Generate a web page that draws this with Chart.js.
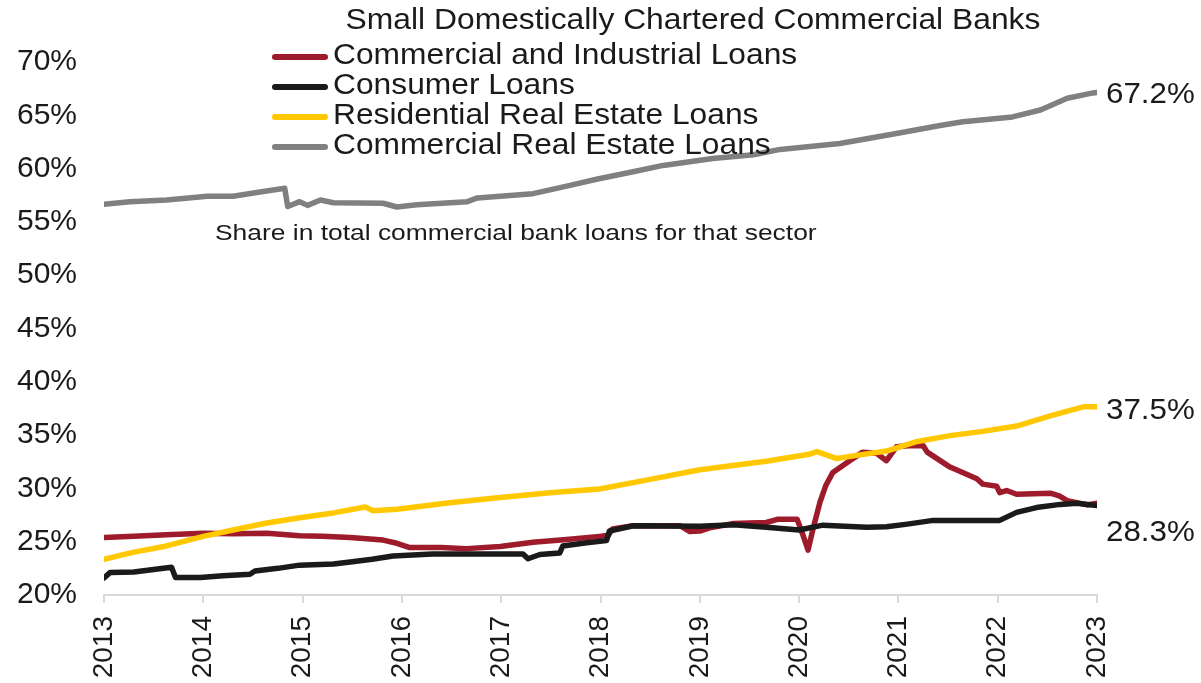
<!DOCTYPE html>
<html>
<head>
<meta charset="utf-8">
<script src="https://cdn.jsdelivr.net/npm/chart.js@4.4.1/dist/chart.umd.min.js"></script>
<style>
  html, body { margin: 0; padding: 0; background: #fff; }
  #wrap { width: 1201px; height: 683px; }
</style>
</head>
<body>
<div id="wrap"><canvas id="c" width="1201" height="683"></canvas></div>
<script>
// Share in total commercial bank loans held by small domestically chartered banks
// (x = decimal year)
const TITLE = "Small Domestically Chartered Commercial Banks";
const NOTE = "Share in total commercial bank loans for that sector";
const SERIES_NAMES = ["Commercial and Industrial Loans", "Consumer Loans", "Residential Real Estate Loans", "Commercial Real Estate Loans"];
const END_LABELS = ["67.2%", "37.5%", "28.3%"];
const Y_TICKS = [20, 25, 30, 35, 40, 45, 50, 55, 60, 65, 70];
const X_YEARS = [2013, 2014, 2015, 2016, 2017, 2018, 2019, 2020, 2021, 2022, 2023];

const ciX = [2013.00, 2013.30, 2013.63, 2014.00, 2014.30, 2014.64, 2014.97, 2015.20, 2015.48, 2015.81, 2015.95, 2016.08, 2016.40, 2016.65, 2016.99,
  2017.32, 2017.66, 2017.99, 2018.08, 2018.12, 2018.33, 2018.80, 2018.90, 2019.00, 2019.10, 2019.34, 2019.67, 2019.78, 2019.98,
  2020.04, 2020.09, 2020.14, 2020.21, 2020.27, 2020.34, 2020.51, 2020.64, 2020.78, 2020.88, 2020.98, 2021.10, 2021.25, 2021.29,
  2021.52, 2021.79, 2021.85, 2021.99, 2022.02, 2022.09, 2022.19, 2022.53, 2022.62, 2022.70, 2022.90, 2023.00];
const ciY = [25.4, 25.5, 25.65, 25.8, 25.75, 25.8, 25.55, 25.5, 25.4, 25.15, 24.85, 24.45, 24.45, 24.35, 24.55,
  24.95, 25.2, 25.5, 25.6, 26.2, 26.5, 26.5, 25.95, 26.0, 26.3, 26.7, 26.8, 27.1, 27.1,
  25.6, 24.2, 26.2, 28.7, 30.3, 31.5, 32.6, 33.4, 33.3, 32.6, 33.9, 34.0, 34.0, 33.4,
  32.0, 30.9, 30.4, 30.2, 29.6, 29.8, 29.45, 29.55, 29.3, 28.85, 28.45, 28.6];

const conX = [2013.00, 2013.06, 2013.30, 2013.50, 2013.68, 2013.72, 2013.97, 2014.20, 2014.47, 2014.52, 2014.75, 2014.97, 2015.31, 2015.48,
  2015.70, 2015.91, 2016.31, 2016.99, 2017.22, 2017.27, 2017.39, 2017.59, 2017.62, 2017.86, 2018.06, 2018.09, 2018.33, 2019.00,
  2019.34, 2019.67, 2020.00, 2020.24, 2020.68, 2020.88, 2021.09, 2021.35, 2022.02, 2022.19, 2022.39, 2022.63, 2022.80, 2023.00];
const conY = [21.6, 22.1, 22.15, 22.4, 22.6, 21.65, 21.65, 21.8, 21.95, 22.25, 22.5, 22.8, 22.9, 23.1,
  23.35, 23.65, 23.85, 23.85, 23.85, 23.4, 23.8, 23.95, 24.6, 24.9, 25.1, 26.0, 26.5, 26.45,
  26.6, 26.35, 26.1, 26.55, 26.35, 26.4, 26.65, 27.0, 27.0, 27.75, 28.2, 28.5, 28.6, 28.4];

const rreX = [2013.00, 2013.29, 2013.63, 2014.00, 2014.30, 2014.64, 2014.97, 2015.31, 2015.63, 2015.71, 2015.95, 2016.48, 2016.99,
  2017.49, 2017.99, 2018.50, 2019.00, 2019.67, 2020.10, 2020.18, 2020.38, 2020.58, 2020.88, 2021.19, 2021.52, 2021.85,
  2022.19, 2022.53, 2022.86, 2023.00];
const rreY = [23.35, 24.0, 24.6, 25.5, 26.1, 26.75, 27.25, 27.7, 28.25, 27.9, 28.05, 28.65, 29.15,
  29.6, 29.95, 30.85, 31.75, 32.55, 33.2, 33.45, 32.8, 33.1, 33.5, 34.4, 34.95, 35.35,
  35.85, 36.8, 37.65, 37.65];

const creX = [2013.00, 2013.26, 2013.63, 2014.04, 2014.30, 2014.57, 2014.82, 2014.85, 2014.97, 2015.05, 2015.18, 2015.31, 2015.81,
  2015.95, 2016.15, 2016.66, 2016.76, 2017.32, 2017.66, 2017.96, 2018.40, 2018.63, 2019.13, 2019.54, 2019.81, 2020.41,
  2020.98, 2021.42, 2021.65, 2022.15, 2022.43, 2022.70, 2022.96, 2023.00];
const creY = [56.65, 56.9, 57.05, 57.4, 57.4, 57.8, 58.15, 56.45, 56.9, 56.55, 57.05, 56.8, 56.75,
  56.4, 56.6, 56.9, 57.25, 57.65, 58.35, 59.0, 59.85, 60.3, 60.95, 61.3, 61.8, 62.35,
  63.3, 64.05, 64.4, 64.85, 65.5, 66.6, 67.1, 67.15];

const COLORS = ["#9e1b2b", "#1a1a1a", "#ffc800", "#808080"];
const FONT = "'Liberation Sans', Arial, sans-serif";
const TXT = "#1a1a1a";

const pts = (xs, ys) => xs.map((x, i) => ({ x, y: ys[i] }));
const line = (i, xs, ys, order) => ({
  label: SERIES_NAMES[i], data: pts(xs, ys), borderColor: COLORS[i], backgroundColor: COLORS[i],
  borderWidth: 5.5, pointRadius: 0, tension: 0, borderJoinStyle: "round", borderCapStyle: "round", order,
});

// stretched text helper (the reference type is a little wide)
function txt(ctx, s, x, y, px, sx, align) {
  ctx.save();
  ctx.translate(x, y);
  ctx.scale(sx, 1);
  ctx.font = px + "px " + FONT;
  ctx.fillStyle = TXT;
  ctx.textBaseline = "middle";
  ctx.textAlign = align || "left";
  ctx.fillText(s, 0, 0);
  ctx.restore();
}

const decor = {
  id: "decor",
  afterDraw(chart) {
    const ctx = chart.ctx;
    txt(ctx, TITLE, 693, 21, 29, 1.097, "center");
    const ly = [56, 86, 116, 146];
    SERIES_NAMES.forEach((n, i) => {
      ctx.save();
      ctx.strokeStyle = COLORS[i];
      ctx.lineWidth = 6;
      ctx.lineCap = "round";
      ctx.beginPath();
      ctx.moveTo(275, ly[i] + 1);
      ctx.lineTo(325, ly[i] + 1);
      ctx.stroke();
      ctx.restore();
      txt(ctx, n, 333, ly[i], 29, 1.095);
    });
    txt(ctx, NOTE, 215, 234, 22, 1.2);
    txt(ctx, END_LABELS[0], 1106, 95, 29, 1.08);
    txt(ctx, END_LABELS[1], 1106, 411, 29, 1.08);
    txt(ctx, END_LABELS[2], 1106, 533, 29, 1.08);
  },
};

new Chart(document.getElementById("c"), {
  type: "line",
  data: {
    datasets: [
      line(0, ciX, ciY, 4),
      line(1, conX, conY, 3),
      line(2, rreX, rreY, 2),
      line(3, creX, creY, 1),
    ],
  },
  options: {
    responsive: false, animation: false, devicePixelRatio: 1,
    layout: { padding: { top: 62, right: 104, left: 0, bottom: 0 } },
    plugins: { legend: { display: false }, tooltip: { enabled: false } },
    scales: {
      x: {
        type: "linear", min: X_YEARS[0], max: X_YEARS[X_YEARS.length - 1],
        afterBuildTicks: (s) => { s.ticks = X_YEARS.map((v) => ({ value: v })); },
        afterFit: (s) => { s.height = 88; },
        grid: { display: true, drawOnChartArea: false, drawTicks: true, tickLength: 8, color: "#d9d9d9", lineWidth: 2 },
        border: { display: true, color: "#d9d9d9", width: 2 },
        ticks: { minRotation: 90, maxRotation: 90, padding: 13, color: TXT, font: { family: FONT, size: 28 }, callback: (v) => String(v) },
      },
      y: {
        min: Y_TICKS[0], max: Y_TICKS[Y_TICKS.length - 1],
        afterBuildTicks: (s) => { s.ticks = Y_TICKS.map((v) => ({ value: v })); },
        afterFit: (s) => { s.width = 104; },
        grid: { display: false, drawTicks: false },
        border: { display: false },
        ticks: { padding: 27, color: TXT, font: { family: FONT, size: 30 }, callback: (v) => v + "%" },
      },
    },
  },
  plugins: [decor],
});
</script>
</body>
</html>
